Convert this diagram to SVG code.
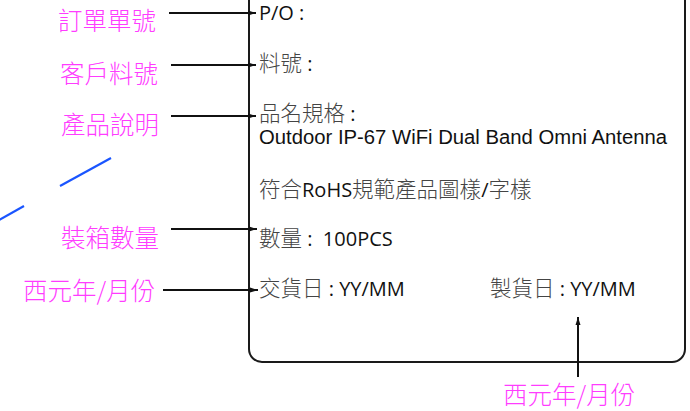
<svg xmlns="http://www.w3.org/2000/svg" width="690" height="411" viewBox="0 0 690 411">
<style>
.lbl{font-family:"Noto Sans CJK TC","Noto Sans CJK SC",sans-serif;font-size:24.5px;fill:#ff3cff;font-weight:300}
.t{font-family:"Open Sans","Noto Sans CJK TC",sans-serif;font-size:20px;fill:#111;white-space:pre}
.cjk{font-family:"Noto Sans CJK TC",sans-serif;font-size:21.5px;fill:#444;font-weight:300}
.en{font-family:"Open Sans","Liberation Sans",sans-serif;fill:#111}
.ar{font-family:"Liberation Sans",Arial,sans-serif;font-size:19.5px;fill:#111}
.conn{stroke:#111;stroke-width:2;fill:none;marker-end:url(#ah)}
.blue{stroke:#1a55ff;stroke-width:2.2;fill:none}
</style>
<defs>
<marker id="ah" viewBox="0 0 8 6" refX="8" refY="3" markerWidth="8" markerHeight="6" markerUnits="userSpaceOnUse" orient="auto">
<path d="M0,0.5 L8,3 L0,5.5 Z" fill="#111"/>
</marker>
</defs>
<rect width="690" height="411" fill="#fff"/>
<g id="label-box">
<rect x="249" y="-30" width="436" height="392" rx="13" ry="13" fill="none" stroke="#1a1a1a" stroke-width="2"/>
<text class="t" x="259" y="20"><tspan class="en">P/O :</tspan></text>
<text class="t" x="259" y="71"><tspan class="cjk">料號</tspan><tspan class="en"> :</tspan></text>
<text class="t" x="259" y="121"><tspan class="cjk">品名規格</tspan><tspan class="en"> :</tspan></text>
<text class="ar" x="259" y="144" textLength="408" lengthAdjust="spacingAndGlyphs">Outdoor IP-67 WiFi Dual Band Omni Antenna</text>
<text class="t" x="259" y="197"><tspan class="cjk">符合</tspan><tspan class="en">RoHS</tspan><tspan class="cjk">規範產品圖樣</tspan><tspan class="en">/</tspan><tspan class="cjk">字樣</tspan></text>
<text class="t" x="259" y="246"><tspan class="cjk">數量</tspan><tspan class="en"> :  100PCS</tspan></text>
<text class="t" x="259" y="296"><tspan class="cjk">交貨日</tspan><tspan class="en"> : YY/MM</tspan></text>
<text class="t" x="490" y="296"><tspan class="cjk">製貨日</tspan><tspan class="en"> : YY/MM</tspan></text>
</g>
<g id="lbl-po"><text class="lbl" x="58" y="30">訂單單號</text></g>
<g id="lbl-part"><text class="lbl" x="60" y="83">客戶料號</text></g>
<g id="lbl-desc"><text class="lbl" x="61" y="134">產品說明</text></g>
<g id="lbl-qty"><text class="lbl" x="61" y="247">裝箱數量</text></g>
<g id="lbl-date1"><text class="lbl" x="23" y="300">西元年/月份</text></g>
<g id="lbl-date2"><text class="lbl" x="503" y="404">西元年/月份</text></g>
<g id="connectors">
<line class="conn" x1="169" y1="13" x2="256" y2="13"/>
<line class="conn" x1="171" y1="65" x2="256" y2="65"/>
<line class="conn" x1="171" y1="116" x2="256" y2="116"/>
<line class="conn" x1="171" y1="229" x2="257" y2="229"/>
<line class="conn" x1="163" y1="290" x2="258" y2="290"/>
<line class="conn" x1="578" y1="377" x2="578" y2="317"/>
</g>
<g id="blue-strokes">
<line class="blue" x1="60" y1="186" x2="111" y2="158"/>
<line class="blue" x1="-1" y1="220" x2="24" y2="206"/>
</g>
</svg>
